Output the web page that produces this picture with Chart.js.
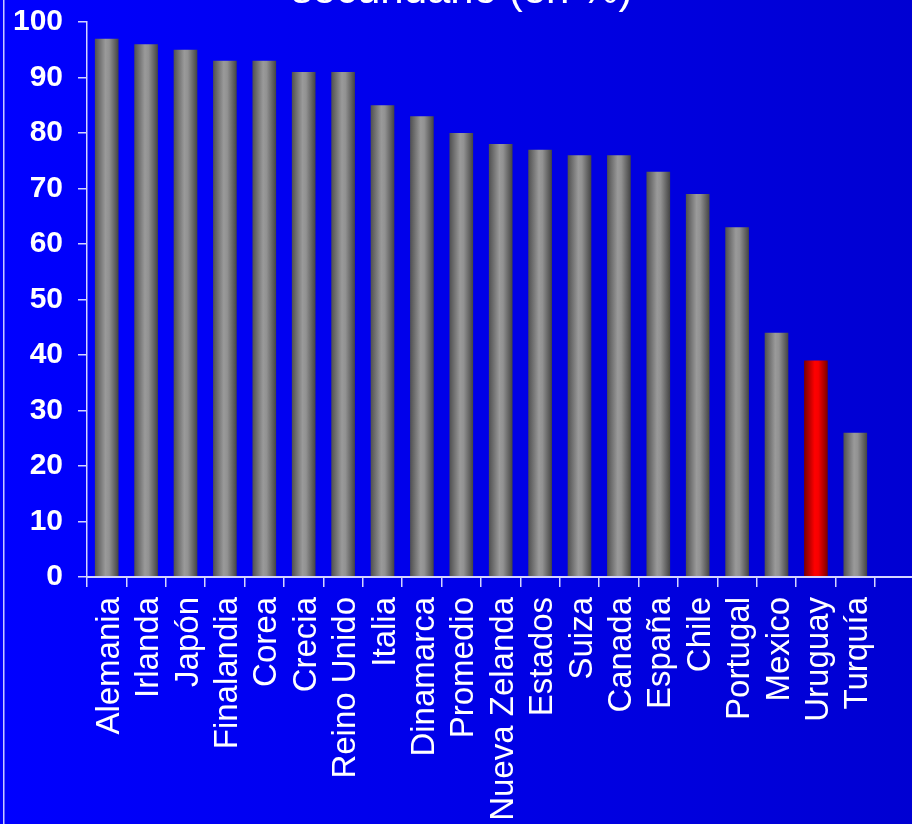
<!DOCTYPE html>
<html>
<head>
<meta charset="utf-8">
<script src="https://cdn.jsdelivr.net/npm/chart.js@4"></script>
<style>
  body { margin: 0; background: #0000ff; }
  canvas { display: block; }
</style>
</head>
<body>
<canvas id="myBarChart" width="912" height="824"></canvas>
<script>
var countries = ["Alemania", "Irlanda", "Japón", "Finalandia", "Corea", "Crecia", "Reino Unido", "Italia",
    "Dinamarca", "Promedio", "Nueva Zelanda", "Estados", "Suiza", "Canada", "España", "Chile",
    "Portugal", "Mexico", "Uruguay", "Turquía"];
var percentages = [97, 96, 95, 93, 93, 91, 91, 85, 83, 80, 78, 77, 76, 76, 73, 69, 63, 44, 39, 26];
var yTicks = [0, 10, 20, 30, 40, 50, 60, 70, 80, 90, 100];
var highlighted = "Uruguay";
var titleText = "secundario (en %)";

var BAR_SHARE = 0.6;
var lineColor = "#d4d4ff";

// cylinder-like shading for each bar
function barFill(context) {
    var chart = context.chart;
    var xScale = chart.scales.x;
    var isRed = countries[context.dataIndex] === highlighted;
    if (!chart.chartArea || !xScale) {
        return isRed ? "#ff0000" : "#909090";
    }
    var center = xScale.getPixelForValue(context.dataIndex);
    var half = (xScale.width / countries.length) * BAR_SHARE / 2;
    var g = chart.ctx.createLinearGradient(center - half, 0, center + half, 0);
    if (isRed) {
        g.addColorStop(0, "#780000");
        g.addColorStop(0.45, "#ff0000");
        g.addColorStop(0.6, "#f80000");
        g.addColorStop(1, "#7a0000");
    } else {
        g.addColorStop(0, "#505050");
        g.addColorStop(0.45, "#9a9a9a");
        g.addColorStop(0.6, "#929292");
        g.addColorStop(1, "#444444");
    }
    return g;
}

var decorations = {
    id: "decorations",
    beforeDraw: function (chart) {
        var ctx = chart.ctx;
        var g = ctx.createLinearGradient(0, 0, chart.width, 0);
        g.addColorStop(0, "#0000ff");
        g.addColorStop(1, "#0000d2");
        ctx.save();
        ctx.fillStyle = g;
        ctx.fillRect(0, 0, chart.width, chart.height);
        ctx.fillStyle = "#c8c8ff";
        ctx.fillRect(3, 0, 1.5, chart.height);
        ctx.restore();
    },
    afterDraw: function (chart) {
        var ctx = chart.ctx;
        var area = chart.chartArea;
        ctx.save();
        // x axis line runs to the right edge
        ctx.strokeStyle = lineColor;
        ctx.lineWidth = 2;
        ctx.beginPath();
        ctx.moveTo(area.left, area.bottom);
        ctx.lineTo(chart.width, area.bottom);
        ctx.stroke();
        // title, mostly cut off by the top edge
        ctx.fillStyle = "#ffffff";
        ctx.font = "42px 'Liberation Sans', Arial, sans-serif";
        ctx.textAlign = "center";
        ctx.textBaseline = "alphabetic";
        ctx.fillText(titleText, 462, 3);
        ctx.restore();
    }
};

function drawBarChart() {
    var ctx = document.getElementById("myBarChart").getContext("2d");
    var chart = new Chart(ctx, {
        type: "bar",
        data: {
            labels: countries,
            datasets: [
                {
                    data: percentages,
                    backgroundColor: barFill,
                    borderWidth: 0,
                    barPercentage: BAR_SHARE,
                    categoryPercentage: 1,
                },
            ],
        },
        options: {
            responsive: false,
            animation: false,
            layout: { padding: { top: 22, right: 37, left: 0, bottom: 0 } },
            plugins: {
                legend: { display: false },
                tooltip: { enabled: false },
            },
            scales: {
                x: {
                    grid: {
                        offset: true,
                        drawOnChartArea: false,
                        drawTicks: true,
                        tickLength: 10,
                        color: lineColor,
                        lineWidth: 1.5,
                    },
                    border: { display: false },
                    ticks: {
                        color: "#ffffff",
                        autoSkip: false,
                        maxRotation: 90,
                        minRotation: 90,
                        padding: 10,
                        labelOffset: 3,
                        font: { family: "'Liberation Sans', Arial, sans-serif", size: 33 },
                    },
                    afterFit: function (scale) {
                        scale.height = 247;
                        scale.paddingLeft = 0;
                        scale.paddingRight = 0;
                    },
                },
                y: {
                    min: 0,
                    max: 100,
                    afterBuildTicks: function (scale) {
                        scale.ticks = yTicks.map(function (v) { return { value: v }; });
                    },
                    grid: {
                        drawOnChartArea: false,
                        drawTicks: true,
                        tickLength: 9,
                        color: lineColor,
                        lineWidth: 1.5,
                    },
                    border: { display: true, color: lineColor, width: 1.5 },
                    ticks: {
                        color: "#ffffff",
                        padding: 15,
                        font: { family: "'Liberation Sans', Arial, sans-serif", size: 30, weight: "bold" },
                    },
                    afterFit: function (scale) {
                        scale.width = 87;
                        scale.paddingTop = 0;
                        scale.paddingBottom = 0;
                    },
                },
            },
        },
        plugins: [decorations],
    });
}

window.onload = function () {
    drawBarChart();
};
</script>
</body>
</html>
